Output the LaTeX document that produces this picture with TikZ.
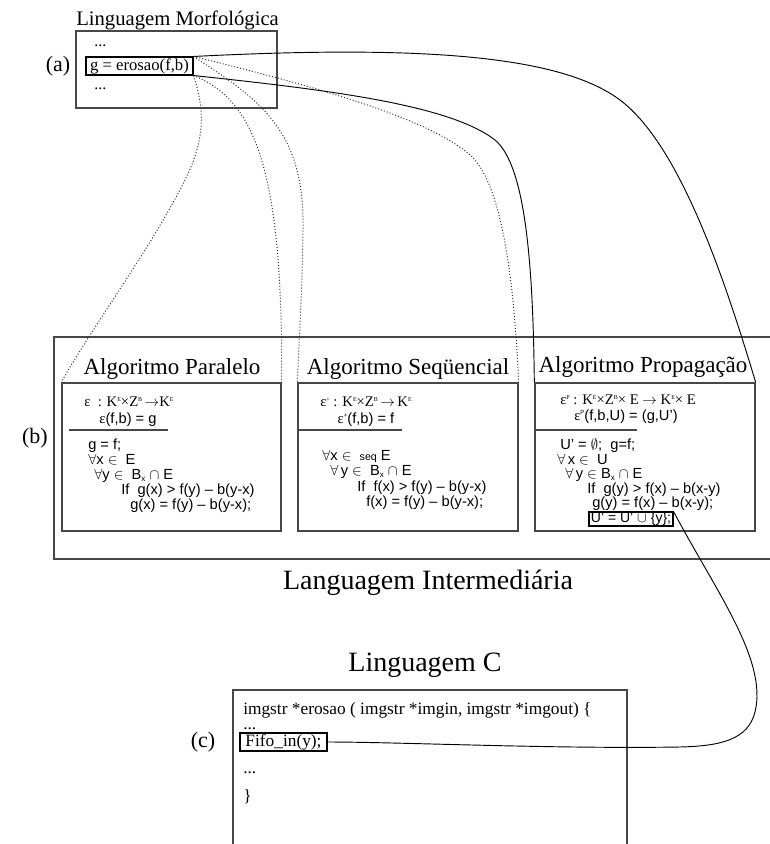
\documentclass[tikz,border=0pt]{standalone}
\usepackage{fontspec}
\setmainfont{Liberation Serif}
\newfontfamily\cf{Liberation Sans}
\newcommand\pxu{0.75pt}
\newcommand\upx[1]{\raisebox{0.65ex}{\fontsize{4.5}{5}\selectfont #1}}
\newcommand\dnx[1]{\raisebox{-0.35ex}{\fontsize{6}{6}\selectfont #1}}
\begin{document}
\begin{tikzpicture}[x=0.75pt,y=-0.75pt,
  frame/.style={draw=black!72, line width=1pt, inner sep=0pt},
  ttl/.style={font=\fontsize{17.25}{20}\selectfont, inner sep=0pt},
  bigt/.style={font=\fontsize{21}{24}\selectfont, inner sep=0pt},
  lbl/.style={font=\fontsize{16.5}{19}\selectfont, inner sep=0pt},
  mathl/.style={font=\fontsize{11}{13}\selectfont, anchor=base west, inner sep=0pt, text height=0.7em, text depth=0.1em},
  code/.style={font=\cf\fontsize{11}{12}\selectfont, anchor=base west, inner sep=0pt, text height=0.72em, text depth=0.1em},
  ccode/.style={font=\fontsize{13}{15}\selectfont, anchor=base west, inner sep=0pt, text height=0.7em, text depth=0.1em},
  conn/.style={draw=black, line width=0.7pt},
  dotc/.style={draw=black!80, line width=0.75pt, dash pattern=on 0.75pt off 1.5pt},
  sepl/.style={draw=black!72, line width=0.9pt}
]
\clip (0,0) rectangle (770,844);
% (a) morphological language
\node[ttl, font=\fontsize{15.5}{18}\selectfont, anchor=base west] (mtitle) at (76,25) {Linguagem Morfológica};
\node[frame, minimum width=201*\pxu, minimum height=77*\pxu] (mbox) at (176.5,69.5) {};
\node[ccode, font=\fontsize{12}{14}\selectfont] (mdots1) at (94,46) {...};
\node[ccode, font=\fontsize{12}{14}\selectfont] (mdots2) at (94,89) {...};
\node[frame, draw=black, line width=0.8pt, minimum width=107*\pxu, minimum height=18*\pxu, font=\fontsize{12.5}{14}\selectfont] (gbox) at (139.5,66) {g = erosao(f,b)};
\node[lbl] (la) at (58,66) {(a)};
% (b) intermediate language
\node[frame, minimum width=736*\pxu, minimum height=222*\pxu] (big) at (422,448) {};
\node[lbl] (lb) at (35,438) {(b)};
\node[bigt] (itl) at (428,583) {Languagem Intermediária};
\node[frame, minimum width=219*\pxu, minimum height=148*\pxu] (par) at (171.5,457) {};
\node[frame, minimum width=220*\pxu, minimum height=148*\pxu] (seq) at (408,457) {};
\node[frame, minimum width=220*\pxu, minimum height=148*\pxu] (prop) at (645,457) {};
\node[ttl] (tpar) at (172,369) {Algoritmo Paralelo};
\node[ttl] (tseq) at (408,369) {Algoritmo Seqüencial};
\node[ttl] (tprop) at (643,367) {Algoritmo Propagação};
% Paralelo
\node[mathl] (pa1) at (84,406) {ε\enspace: K\upx{E}×Z\upx{B}\,$\rightarrow$K\upx{E}};
\node[code, anchor=base] (pa2) at (128,423) {{\rmfamily ε}(f,b) = g};
\draw[sepl] (69,430) -- (168,430);
\node[code] (pa3) at (88,449) {g = f;};
\node[code] (pa4) at (88,464) {$\forall$x $\in$\ \ E};
\node[code] (pa5) at (94,479) {$\forall$y $\in$\ \ B\dnx{x} $\cap$ E};
\node[code] (pa6) at (121,494) {If\ \ g(x) > f(y) – b(y-x)};
\node[code] (pa7) at (130,509) {g(x) = f(y) – b(y-x);};
% Sequencial
\node[mathl] (sq1) at (320,406) {ε\upx{+} : K\upx{E}×Z\upx{B}\,$\rightarrow$\,K\upx{E}};
\node[code, anchor=base] (sq2) at (366,423) {{\rmfamily ε}\upx{+}(f,b) = f};
\draw[sepl] (seq.west |- 0,430) -- (402,430);
\node[code] (sq3) at (322,460) {$\forall$x $\in$\ \ {\fontsize{8}{9}\selectfont seq} E};
\node[code] (sq4) at (330,475) {$\forall$\,y $\in$\ \ B\dnx{x} $\cap$ E};
\node[code] (sq5) at (357,491) {If\ \ f(x) > f(y) – b(y-x)};
\node[code] (sq6) at (366,506) {f(x) = f(y) – b(y-x);};
% Propagacao
\node[mathl] (pr1) at (560,404) {ε\upx{P} : K\upx{E}×Z\upx{B}× E $\rightarrow$ K\upx{E}× E};
\node[code] (pr2) at (574,420) {{\rmfamily ε}\upx{P}(f,b,U) = (g,U’)};
\draw[sepl] (prop.west |- 0,430) -- (637,430);
\node[code] (pr3) at (560,449) {U’ = $\emptyset$;\ \ g=f;};
\node[code] (pr4) at (557,464) {$\forall$\,x $\in$\ \ U};
\node[code] (pr5) at (565,478) {$\forall$\,y $\in$ B\dnx{x} $\cap$ E};
\node[code] (pr6) at (587,493) {If\ \ g(y) > f(x) – b(x-y)};
\node[code] (pr7) at (592,507) {g(y) = f(x) – b(x-y);};
\node[frame, draw=black, line width=0.8pt, minimum width=84*\pxu, minimum height=14*\pxu, font=\cf\fontsize{10.5}{12}\selectfont] (ubox) at (631,519) {U’ = U’ $\cup$ \{y\};};
% (c) C language
\node[bigt] (ctl) at (425,665) {Linguagem C};
\node[frame, minimum width=394*\pxu, minimum height=170*\pxu] (cbox) at (430,775) {};
\node[ccode] (c1) at (243,714) {imgstr *erosao ( imgstr *imgin, imgstr *imgout) \{};
\node[ccode] (c2) at (243,729) {...};
\node[frame, draw=black, line width=0.8pt, minimum width=87*\pxu, minimum height=18*\pxu, font=\fontsize{13}{15}\selectfont] (fifo) at (283.5,742) {Fifo\_in(y);\hspace{6pt}};
\node[ccode] (c3) at (243,773) {...};
\node[ccode] (c4) at (243,801) {\}};
\node[lbl] (lc) at (203,742) {(c)};
% connectors
\draw[conn] (gbox.north east) .. controls (420,45) and (560,55) .. (620,100) .. controls (680,145) and (725,280) .. (prop.north east);
\draw[conn] (gbox.south east) .. controls (330,90) and (450,105) .. (495,140) .. controls (525,165) and (533,260) .. (prop.north west);
\draw[dotc] (gbox.north east) .. controls (330,90) and (430,120) .. (470,155) .. controls (505,185) and (515,300) .. (seq.north east);
\draw[dotc] (gbox.north east) .. controls (260,100) and (305,130) .. (303,230) .. controls (302,300) and (299,340) .. (seq.north west);
\draw[dotc] (gbox.south east) .. controls (255,100) and (283,170) .. (par.north east);
\draw[dotc] (gbox.south east) .. controls (205,110) and (205,140) .. (185,180) .. controls (150,250) and (90,330) .. (par.north west);
\draw[conn] (ubox.north east) .. controls (715,590) and (768,660) .. (755,712) .. controls (748,740) and (720,746) .. (680,747) .. controls (550,749) and (400,742) .. (fifo.east);
\end{tikzpicture}
\end{document}
